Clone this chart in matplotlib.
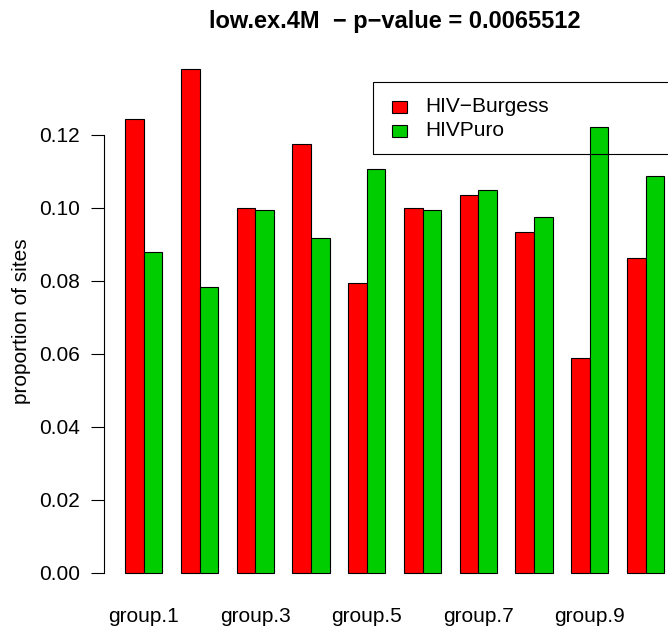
import matplotlib
matplotlib.use("Agg")
import matplotlib.pyplot as plt
from matplotlib.patches import Rectangle
import numpy as np

# Data: proportion of integration sites per group for each vector
groups = ["group.1", "group.2", "group.3", "group.4", "group.5",
          "group.6", "group.7", "group.8", "group.9", "group.10"]
series_names = ["HIV\u2212Burgess", "HIVPuro"]
burgess = [0.1242, 0.1380, 0.1000, 0.1174, 0.0794,
           0.1000, 0.1036, 0.0933, 0.0587, 0.0863]
puro = [0.0879, 0.0784, 0.0994, 0.0918, 0.1107,
        0.0993, 0.1049, 0.0974, 0.1222, 0.1088]
yticks = [0.00, 0.02, 0.04, 0.06, 0.08, 0.10, 0.12]
title = "low.ex.4M  \u2212 p\u2212value = 0.0065512"
ylabel = "proportion of sites"

colors = ["#FF0000", "#00CD00"]
FS = 15

W, H = 668, 630
plt.rcParams["font.family"] = ["Liberation Sans", "DejaVu Sans"]
fig = plt.figure(figsize=(W / 100, H / 100), dpi=100)

def fx(px):
    return px / W

def fy(py):
    return 1 - py / H

# plot region (extends past the right edge of the canvas)
left_px, right_px, top_px, bottom_px = 103.7, 685.7, 49.0, 593.0
ax = fig.add_axes([fx(left_px), fy(bottom_px),
                   (right_px - left_px) / W, (bottom_px - top_px) / H])
ax.patch.set_alpha(0)

# barplot layout: bar width 1, one-bar gap before each group
n = len(groups)
starts = 1 + 3 * np.arange(n)
ax.bar(starts, burgess, width=1, align="edge", color=colors[0],
       edgecolor="black", linewidth=0.8)
ax.bar(starts + 1, puro, width=1, align="edge", color=colors[1],
       edgecolor="black", linewidth=0.8)

ax.set_xlim(-0.16, 31.16)
ax.set_ylim(-0.00556, 0.14348)

for s in ["top", "right", "bottom"]:
    ax.spines[s].set_visible(False)
ax.spines["left"].set_bounds(0, 0.12)
ax.spines["left"].set_linewidth(0.8)

ax.set_yticks(yticks)
ax.set_yticklabels([f"{t:.2f}" for t in yticks])
ax.tick_params(axis="y", length=9.1, width=0.8, pad=8, labelsize=FS)

centers = starts + 1
ax.set_xticks(centers)
ax.set_xticklabels([g if i % 2 == 0 else "" for i, g in enumerate(groups)])
ax.tick_params(axis="x", length=0, pad=10.4, labelsize=FS)

ax.set_ylabel(ylabel, fontsize=FS)
ax.yaxis.set_label_coords((31 - left_px) / (right_px - left_px), 0.5)

fig.text(fx((left_px + right_px) / 2), fy(28), title, ha="center",
         va="baseline", fontsize=17, fontweight="bold")

# legend box
lx0, ly0, lx1, ly1 = 373.3, 81.7, 686.0, 154.3
fig.patches.append(Rectangle((fx(lx0), fy(ly1)), fx(lx1 - lx0), (ly1 - ly0) / H,
                             transform=fig.transFigure, fill=False,
                             edgecolor="black", linewidth=0.8))
for i, (name, col) in enumerate(zip(series_names, colors)):
    cy = 107 + 24 * i
    fig.patches.append(Rectangle((fx(391.5), fy(cy + 6)), fx(15), 12 / H,
                                 transform=fig.transFigure, facecolor=col,
                                 edgecolor="black", linewidth=0.8))
    fig.text(fx(425.7), fy(cy), name, ha="left", va="center", fontsize=FS)

fig.savefig("out.png", dpi=100)
